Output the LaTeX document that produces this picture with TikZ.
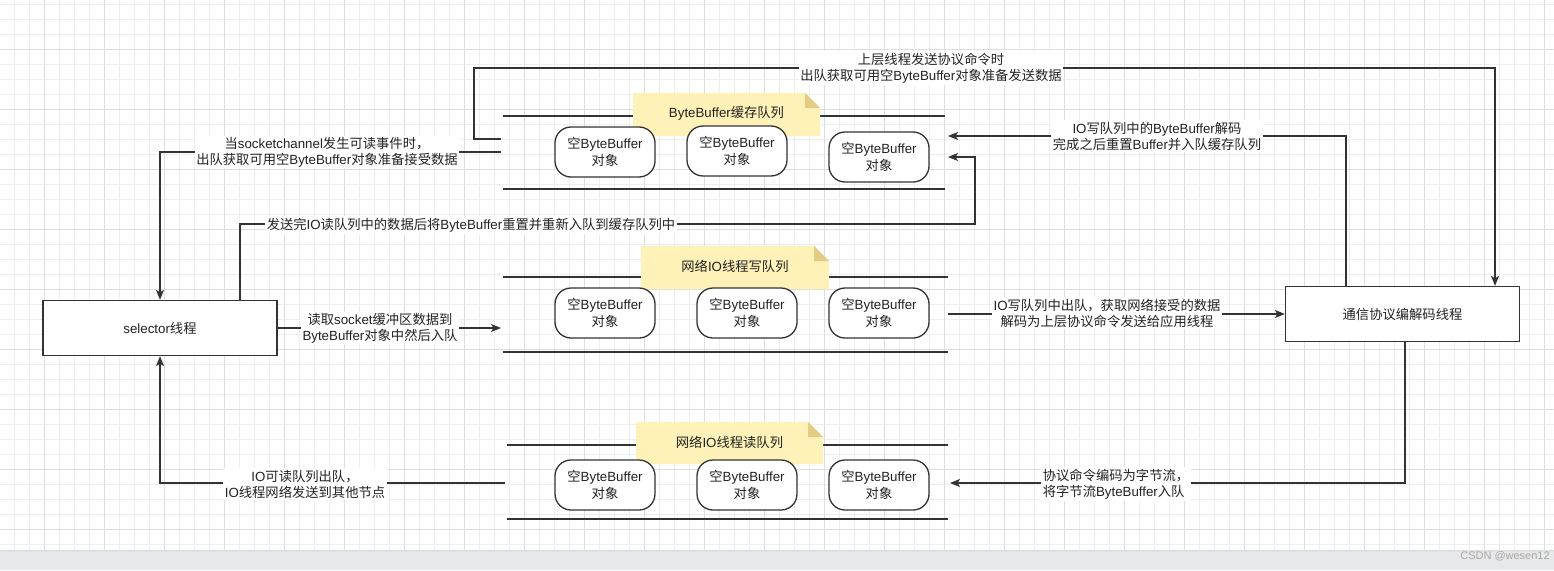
\documentclass[tikz,border=0pt]{standalone}
\usepackage{fontspec}
\setmainfont{Noto Sans CJK SC}
\newfontfamily\latfont{Liberation Sans}
\newcommand{\en}[1]{{\latfont #1}}
\usetikzlibrary{arrows.meta,calc}
\definecolor{ln}{HTML}{333333}
\definecolor{txt}{HTML}{222222}
\definecolor{gridminor}{HTML}{EEEEEE}
\definecolor{gridmajor}{HTML}{DEDEDE}
\definecolor{notefill}{HTML}{FFF2B8}
\definecolor{notefold}{HTML}{E3CD84}
\definecolor{band}{HTML}{E7E8EA}
\definecolor{wm}{HTML}{A8A8A8}
\begin{document}
\begin{tikzpicture}[x=1pt,y=-1pt,
  font=\fontsize{13.3}{16}\selectfont, text=txt,
  threadbox/.style={draw=ln, line width=1.3pt, fill=white, minimum width=234pt, minimum height=55pt, inner sep=0pt, font=\fontsize{13.3}{16}\selectfont},
  buf/.style={draw=ln, line width=1.3pt, fill=white, rounded corners=16pt, minimum width=100pt, minimum height=50pt, align=center, inner sep=0pt, font=\fontsize{13.3}{16.5}\selectfont},
  lbl/.style={fill=white, align=center, inner sep=1.5pt, font=\fontsize{13.3}{16}\selectfont},
  conn/.style={draw=ln, line width=1.3pt},
  arr/.style={conn, -{Stealth[length=10pt,width=8pt,inset=2.5pt]}},
  qline/.style={draw=ln, line width=1.8pt},
  notetext/.style={font=\fontsize{13.3}{16}\selectfont}
]
\useasboundingbox (0,0) rectangle (1554,570);
% grid
\fill[white] (0,0) rectangle (1554,550);
\foreach \k in {0,...,102} {
  \draw[gridminor, line width=1pt] ({14.5+15*\k},0) -- ({14.5+15*\k},550);
}
\foreach \k in {0,...,36} {
  \draw[gridminor, line width=1pt] (0,{4.5+15*\k}) -- (1554,{4.5+15*\k});
}
\foreach \k in {0,...,25} {
  \draw[gridmajor, line width=1pt] ({44.5+60*\k},0) -- ({44.5+60*\k},550);
}
\foreach \k in {0,...,8} {
  \draw[gridmajor, line width=1pt] (0,{49.5+60*\k}) -- (1554,{49.5+60*\k});
}
% bottom band
\fill[band] (0,550) rectangle (1554,570);
\fill[black!12] (0,550) rectangle (1554,551.5);
\node[text=wm, font=\fontsize{11}{12}\selectfont] (wmark) at (1505,556) {\en{CSDN @wesen12}};

% queue lines
\draw[qline] (503,116) -- (945,116);
\draw[qline] (503,189) -- (945,189);
\draw[qline] (503,277) -- (948,277);
\draw[qline] (503,352) -- (948,352);
\draw[qline] (507,445) -- (948,445);
\draw[qline] (507,519) -- (948,519);

% notes
\newcommand{\qnote}[6]{%
  \fill[notefill] (#1,#2) -- ({#3-15},#2) -- (#3,{#2+15}) -- (#3,#4) -- (#1,#4) -- cycle;
  \fill[notefold] ({#3-15},#2) -- ({#3-15},{#2+15}) -- (#3,{#2+15}) -- cycle;
  \node[notetext] (#5) at ({(#1+#3)/2},{(#2+#4)/2-1}) {#6};
}
\qnote{633}{93}{820}{136}{cachenote}{\en{ByteBuffer}缓存队列}
\qnote{641}{246}{829}{289}{writenote}{网络\en{IO}线程写队列}
\qnote{636}{422}{823}{464}{readnote}{网络\en{IO}线程读队列}

% buffers
\newcommand{\bufname}{空\en{ByteBuffer}\\对象}
\node[buf] (c1) at (605,152) {\bufname};
\node[buf] (c2) at (737,151) {\bufname};
\node[buf] (c3) at (879,157) {\bufname};
\node[buf] (w1) at (605,313) {\bufname};
\node[buf] (w2) at (747,313) {\bufname};
\node[buf] (w3) at (879,313) {\bufname};
\node[buf] (r1) at (605,485) {\bufname};
\node[buf] (r2) at (747,485) {\bufname};
\node[buf] (r3) at (879,485) {\bufname};

% thread boxes
\node[threadbox] (sel) at (160,328) {\en{selector}线程};
\node[threadbox] (dec) at (1402.5,314) {通信协议编解码线程};

% connector end points at queue sides
\coordinate (cqLa) at (501,139);
\coordinate (cqLb) at (501,152);
\coordinate (cqRa) at (948,136);
\coordinate (cqRb) at (948,157);
\coordinate (wqL) at (501,328);
\coordinate (wqR) at (948,314);
\coordinate (rqL) at (505,483);
\coordinate (rqR) at (950,483);

% connectors
\draw[arr] (cqLa) -- (474,139) -- (474,68) -- (1495,68) -- (dec.north -| 1495,0);
\node[lbl] (l1) at (931,68) {上层线程发送协议命令时\\出队获取可用空\en{ByteBuffer}对象准备发送数据};

\draw[arr] (cqLb) -- (160,152) -- (sel.north);
\node[lbl] (l2) at (327,152) {当\en{socketchannel}发生可读事件时，\\出队获取可用空\en{ByteBuffer}对象准备接受数据};

\draw[arr] (dec.north -| 1346,0) -- (1346,136) -- (cqRa);
\node[lbl] (l3) at (1157,136) {\en{IO}写队列中的\en{ByteBuffer}解码\\完成之后重置\en{Buffer}并入队缓存队列};

\draw[arr] (sel.north -| 240,0) -- (240,224) -- (975,224) -- (975,157) -- (cqRb);
\node[lbl] (l4) at (471,225) {发送完\en{IO}读队列中的数据后将\en{ByteBuffer}重置并重新入队到缓存队列中};

\draw[arr] (sel.east) -- (wqL);
\node[lbl] (l5) at (380,328) {读取\en{socket}缓冲区数据到\\\en{ByteBuffer}对象中然后入队};

\draw[arr] (wqR) -- (dec.west);
\node[lbl] (l6) at (1107,313) {\en{IO}写队列中出队，获取网络接受的数据\\解码为上层协议命令发送给应用线程};

\draw[arr] (dec.south -| 1405,0) -- (1405,483) -- (rqR);
\node[lbl, align=left] (l7) at (1116,484) {协议命令编码为字节流，\\将字节流\en{ByteBuffer}入队};

\draw[arr] (rqL) -- (160,483) -- (sel.south);
\node[lbl] (l8) at (305,484) {\en{IO}可读队列出队，\\\en{IO}线程网络发送到其他节点};
\end{tikzpicture}
\end{document}
